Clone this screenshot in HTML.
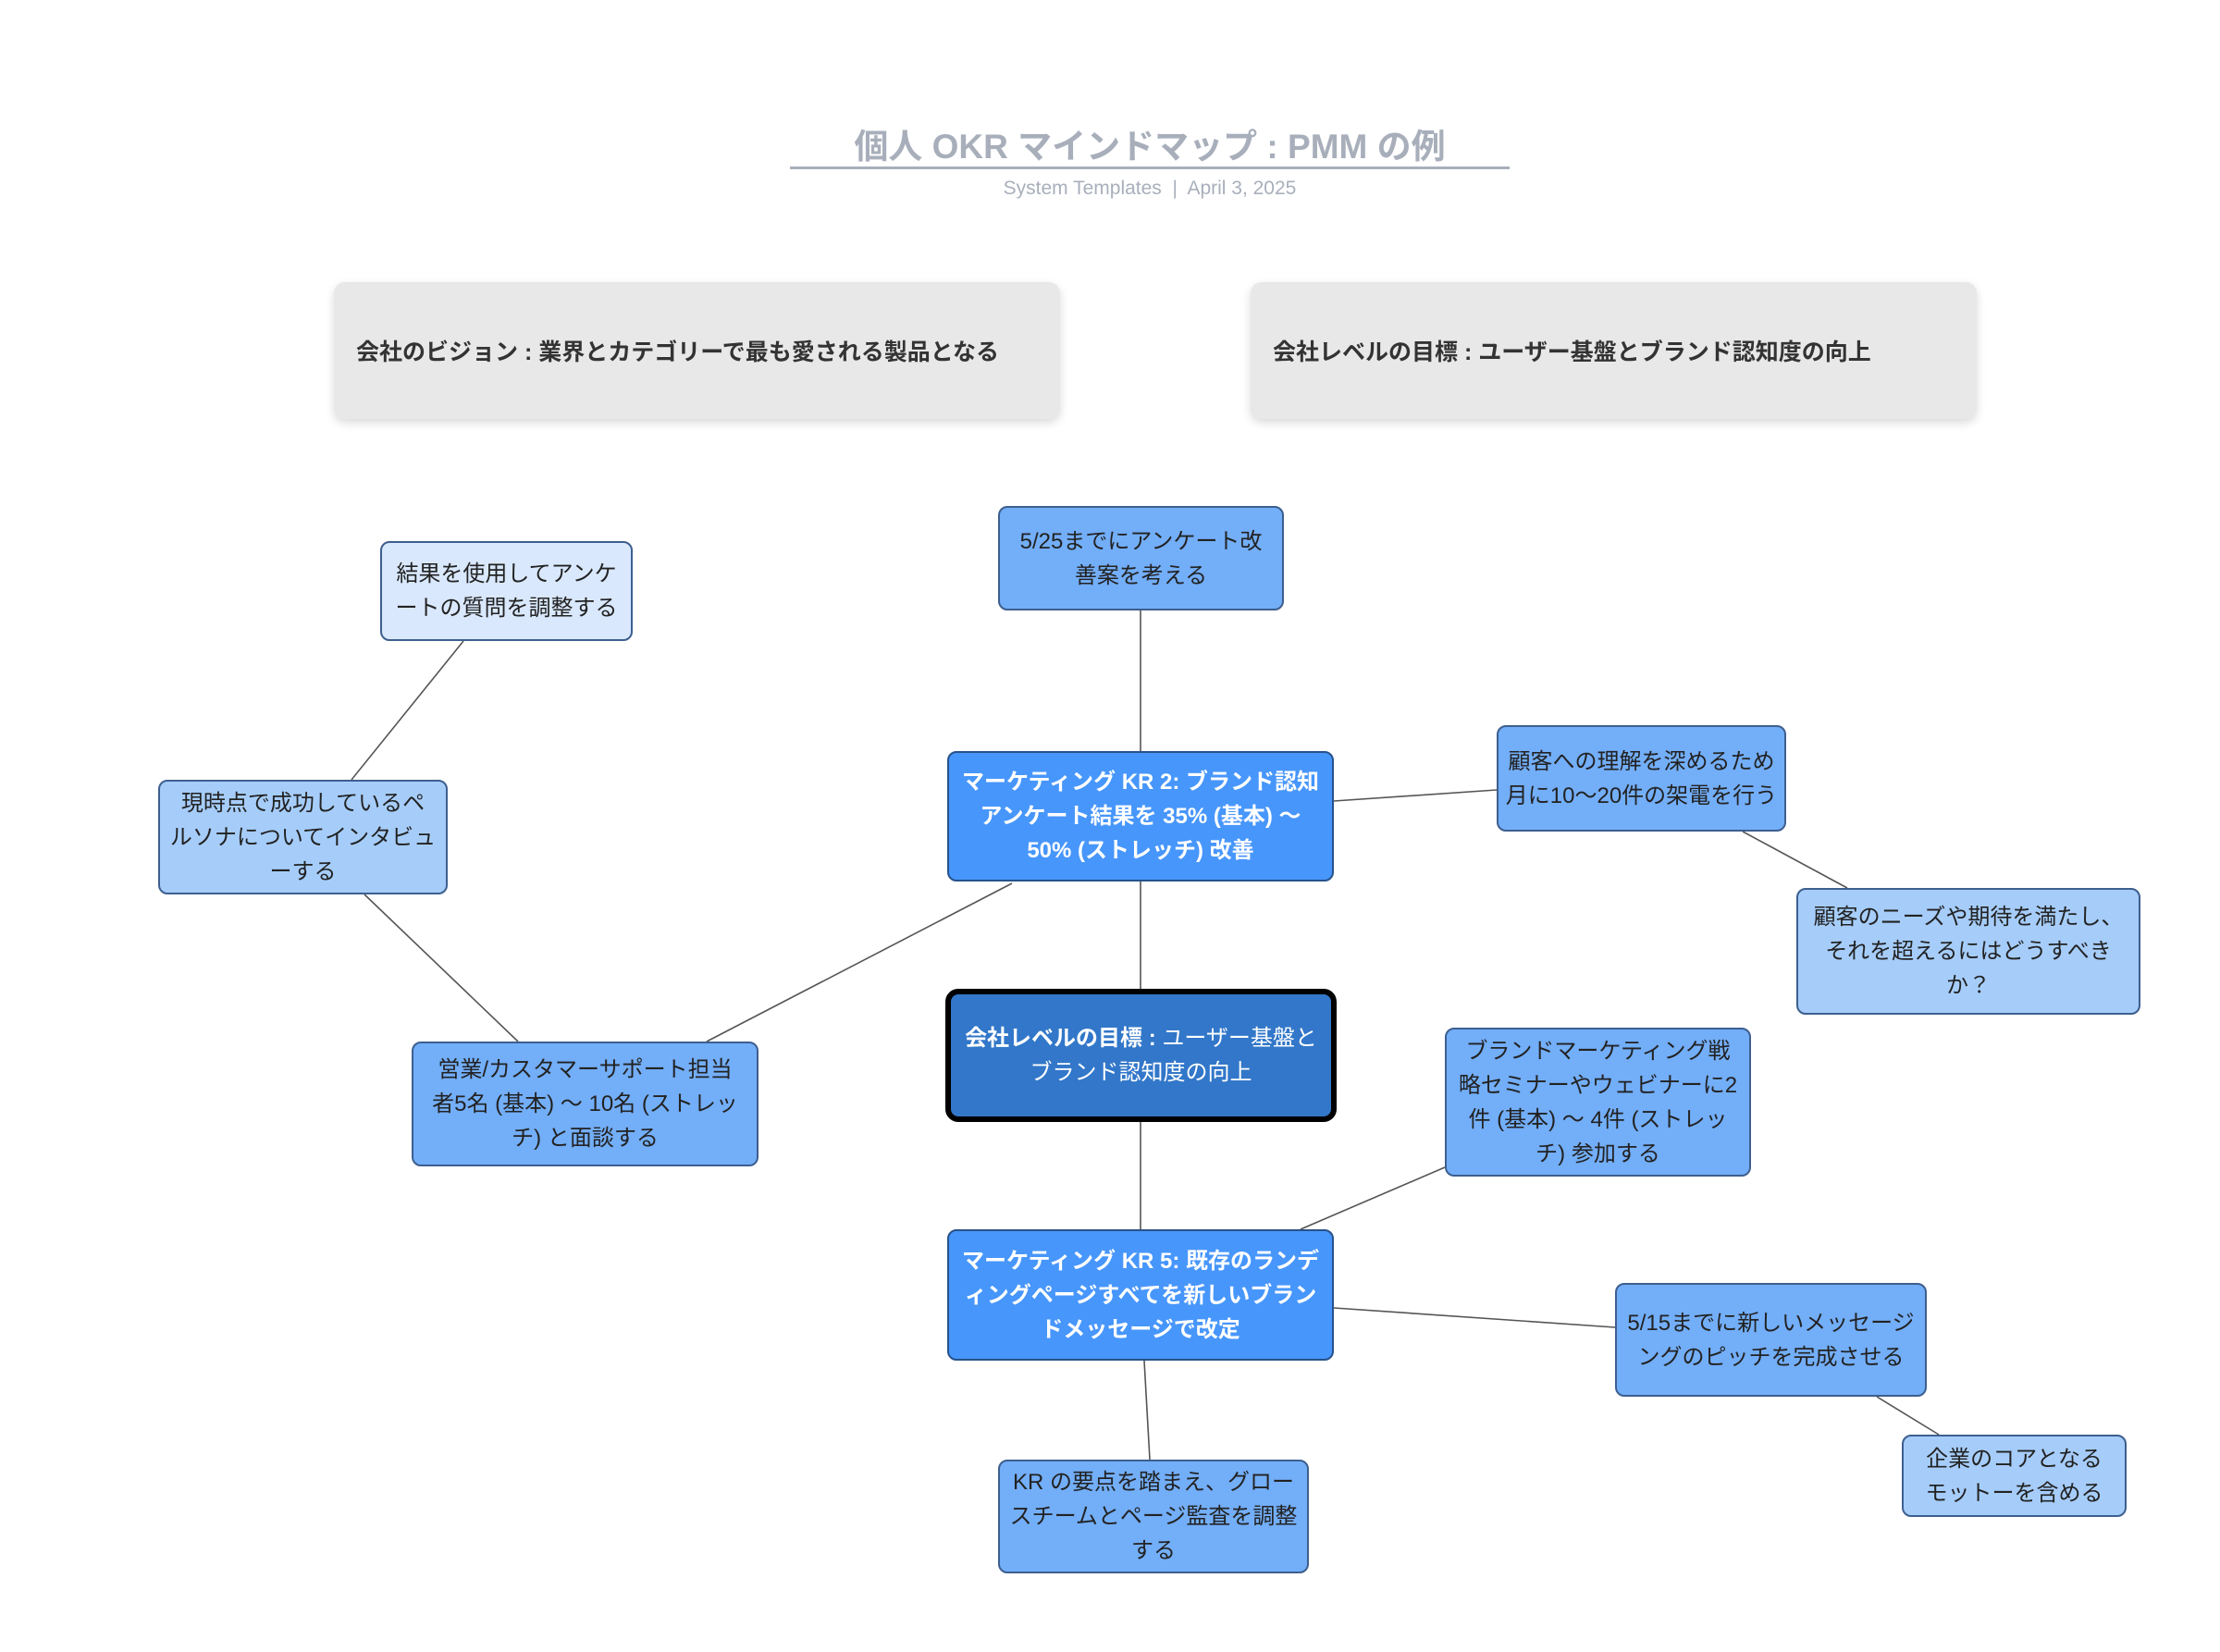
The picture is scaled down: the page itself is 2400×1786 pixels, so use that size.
<!DOCTYPE html>
<html><head><meta charset="utf-8"><style>
body{margin:0;width:2400px;height:1786px;background:#fff;position:relative;overflow:hidden;font-family:"Liberation Sans","Noto Sans CJK JP",sans-serif;}
.n{position:absolute;box-sizing:border-box;display:flex;align-items:center;justify-content:center;text-align:center;border:2.5px solid #3d5f8f;border-radius:10px;font-size:24px;line-height:37px;color:#222;padding:0 6px;}
.l{background:#d9e8fc}.m1{background:#a6cdfa}.m{background:#73aef8}
.kr{background:#4796fb;color:#fff;font-weight:bold;border-color:#27528a}
.c{background:#3277c9;color:#fff;border:6px solid #000;border-radius:14px}
.g{position:absolute;box-sizing:border-box;background:#e8e8e8;border-radius:12px;box-shadow:0 4px 10px rgba(0,0,0,.15);display:flex;align-items:center;padding-left:24px;font-size:25px;font-weight:bold;color:#333;}
</style></head><body>
<div style="position:absolute;left:0;width:2486px;top:128px;text-align:center;font-size:37px;font-weight:bold;color:#a8afbb;">個人 OKR マインドマップ : PMM の例</div>
<div style="position:absolute;left:854px;width:778px;top:180px;height:3px;background:#a8afbb"></div>
<div style="position:absolute;left:0;width:2486px;top:192px;text-align:center;font-size:21px;color:#a8afbb;">System Templates &nbsp;|&nbsp; April 3, 2025</div>
<div class="g" style="left:361px;top:305px;width:785px;height:148px">会社のビジョン : 業界とカテゴリーで最も愛される製品となる</div>
<div class="g" style="left:1352px;top:305px;width:785px;height:148px">会社レベルの目標 : ユーザー基盤とブランド認知度の向上</div>
<svg style="position:absolute;left:0;top:0" width="2400" height="1786" stroke="#555" stroke-width="1.6">
<line x1="1233" y1="660" x2="1233" y2="812"/>
<line x1="1233" y1="953" x2="1233" y2="1069"/>
<line x1="1233" y1="1213" x2="1233" y2="1329"/>
<line x1="1094" y1="955" x2="764" y2="1126"/>
<line x1="560" y1="1126" x2="394" y2="967"/>
<line x1="380" y1="843" x2="501" y2="693"/>
<line x1="1442" y1="866" x2="1618" y2="854"/>
<line x1="1884" y1="899" x2="1997" y2="960"/>
<line x1="1406" y1="1329" x2="1562" y2="1262"/>
<line x1="1442" y1="1414" x2="1746" y2="1435"/>
<line x1="2029" y1="1510" x2="2096" y2="1551"/>
<line x1="1237" y1="1471" x2="1243" y2="1578"/>
</svg>
<div class="n m" style="left:1079px;top:547px;width:309px;height:113px">5/25までにアンケート改<br>善案を考える</div>
<div class="n l" style="left:411px;top:585px;width:273px;height:108px">結果を使用してアンケ<br>ートの質問を調整する</div>
<div class="n m1" style="left:171px;top:843px;width:313px;height:124px">現時点で成功しているペ<br>ルソナについてインタビュ<br>ーする</div>
<div class="n m" style="left:445px;top:1126px;width:375px;height:135px">営業/カスタマーサポート担当<br>者5名 (基本) 〜 10名 (ストレッ<br>チ) と面談する</div>
<div class="n kr" style="left:1024px;top:812px;width:418px;height:141px">マーケティング KR 2: ブランド認知<br>アンケート結果を 35% (基本) 〜<br>50% (ストレッチ) 改善</div>
<div class="n c" style="left:1022px;top:1069px;width:423px;height:144px"><span><b>会社レベルの目標 :</b> ユーザー基盤と<br>ブランド認知度の向上</span></div>
<div class="n m" style="left:1618px;top:784px;width:313px;height:115px">顧客への理解を深めるため<br>月に10〜20件の架電を行う</div>
<div class="n m1" style="left:1942px;top:960px;width:372px;height:137px">顧客のニーズや期待を満たし、<br>それを超えるにはどうすべき<br>か？</div>
<div class="n m" style="left:1562px;top:1111px;width:331px;height:161px">ブランドマーケティング戦<br>略セミナーやウェビナーに2<br>件 (基本) 〜 4件 (ストレッ<br>チ) 参加する</div>
<div class="n kr" style="left:1024px;top:1329px;width:418px;height:142px">マーケティング KR 5: 既存のランデ<br>ィングページすべてを新しいブラン<br>ドメッセージで改定</div>
<div class="n m" style="left:1746px;top:1387px;width:337px;height:123px">5/15までに新しいメッセージ<br>ングのピッチを完成させる</div>
<div class="n m1" style="left:2056px;top:1551px;width:243px;height:89px">企業のコアとなる<br>モットーを含める</div>
<div class="n m" style="left:1079px;top:1578px;width:336px;height:123px">KR の要点を踏まえ、グロー<br>スチームとページ監査を調整<br>する</div>
</body></html>
